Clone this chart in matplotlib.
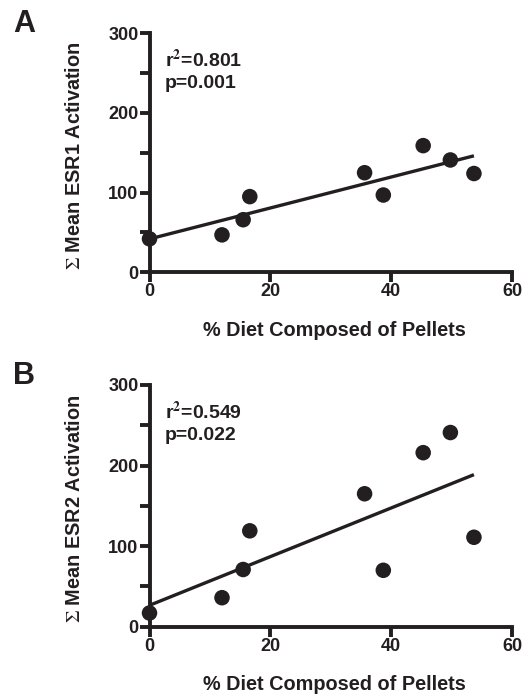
import numpy as np
import matplotlib
matplotlib.use("Agg")
import matplotlib.pyplot as plt

plt.rcParams['font.family'] = ['Liberation Sans', 'DejaVu Sans']
plt.rcParams['mathtext.fontset'] = 'stix'

pellets_pct = [0, 12, 15.5, 16.6, 35.6, 38.7, 45.3, 49.8, 53.7]
esr1 = [42, 47, 66, 95, 125, 97, 159, 141, 124]
esr2 = [17, 36, 71, 119, 165, 70, 216, 241, 111]
x_ticks = [0, 20, 40, 60]
y_ticks = [0, 100, 200, 300]
y_minor = [50, 150, 250]
panels = ["A", "B"]
ylabels = [r"$\Sigma$ Mean ESR1 Activation", r"$\Sigma$ Mean ESR2 Activation"]
stats = [("0.801", "0.001"), ("0.549", "0.022")]
xlabel = "% Diet Composed of Pellets"

INK = '#231f20'
W, H = 522, 697
fig = plt.figure(figsize=(W/100, H/100), dpi=100)

boxes = [(149.5, 33.3, 272.3), (149.5, 385, 626.7)]
right = 512

for i, (yvals, (left, top, bot)) in enumerate(zip([esr1, esr2], boxes)):
    ax = fig.add_axes([left/W, 1-bot/H, (right-left)/W, (bot-top)/H])
    x = np.array(pellets_pct)
    y = np.array(yvals)
    slope, icpt = np.polyfit(x, y, 1)
    xl = np.array([x.min(), x.max()])
    ax.plot(xl, slope*xl + icpt, color=INK, lw=2.4, solid_capstyle='butt', zorder=2)
    ax.scatter(x, y, s=125, color=INK, zorder=3, clip_on=False, edgecolors='none')
    ax.set_xlim(0, 60)
    ax.set_ylim(0, 300)
    ax.set_xticks(x_ticks)
    ax.set_yticks(y_ticks)
    ax.set_yticks(y_minor, minor=True)
    for s in ['top', 'right']:
        ax.spines[s].set_visible(False)
    for s in ['left', 'bottom']:
        ax.spines[s].set_linewidth(2.8)
        ax.spines[s].set_color(INK)
        ax.spines[s].set_capstyle('projecting')
    ax.tick_params(axis='both', which='major', length=7, width=2.8, color=INK,
                   labelsize=13, labelcolor=INK, pad=1, direction='out')
    ax.tick_params(axis='y', which='minor', length=7, width=2.8, color=INK, direction='out')
    for lab in ax.get_xticklabels() + ax.get_yticklabels():
        lab.set_fontweight('bold')
    ax.set_xlabel(xlabel, fontsize=14.3, fontweight='bold', color=INK)
    ax.xaxis.set_label_coords(0.51, -63.5/(bot-top))
    ax.xaxis.label.set_va('baseline')
    ax.set_ylabel(ylabels[i], fontsize=14.3, fontweight='bold', color=INK)
    ax.yaxis.set_label_coords(-(left-74)/(right-left), 0.49)
    ax.yaxis.label.set_va('center')
    r2, p = stats[i]
    ax.text(0.043, 0.857, r"r$^{\mathbf{2}}$=" + r2, transform=ax.transAxes, fontsize=14,
            fontweight='bold', color=INK, va='baseline', ha='left')
    ax.text(0.043, 0.772, "p=" + p, transform=ax.transAxes, fontsize=14,
            fontweight='bold', color=INK, va='baseline', ha='left')
    fig.text(13/W, 1-(top-9)/H, panels[i], fontsize=22, fontweight='bold', color=INK,
             va='center', ha='left')

fig.savefig("out.png", dpi=100)
